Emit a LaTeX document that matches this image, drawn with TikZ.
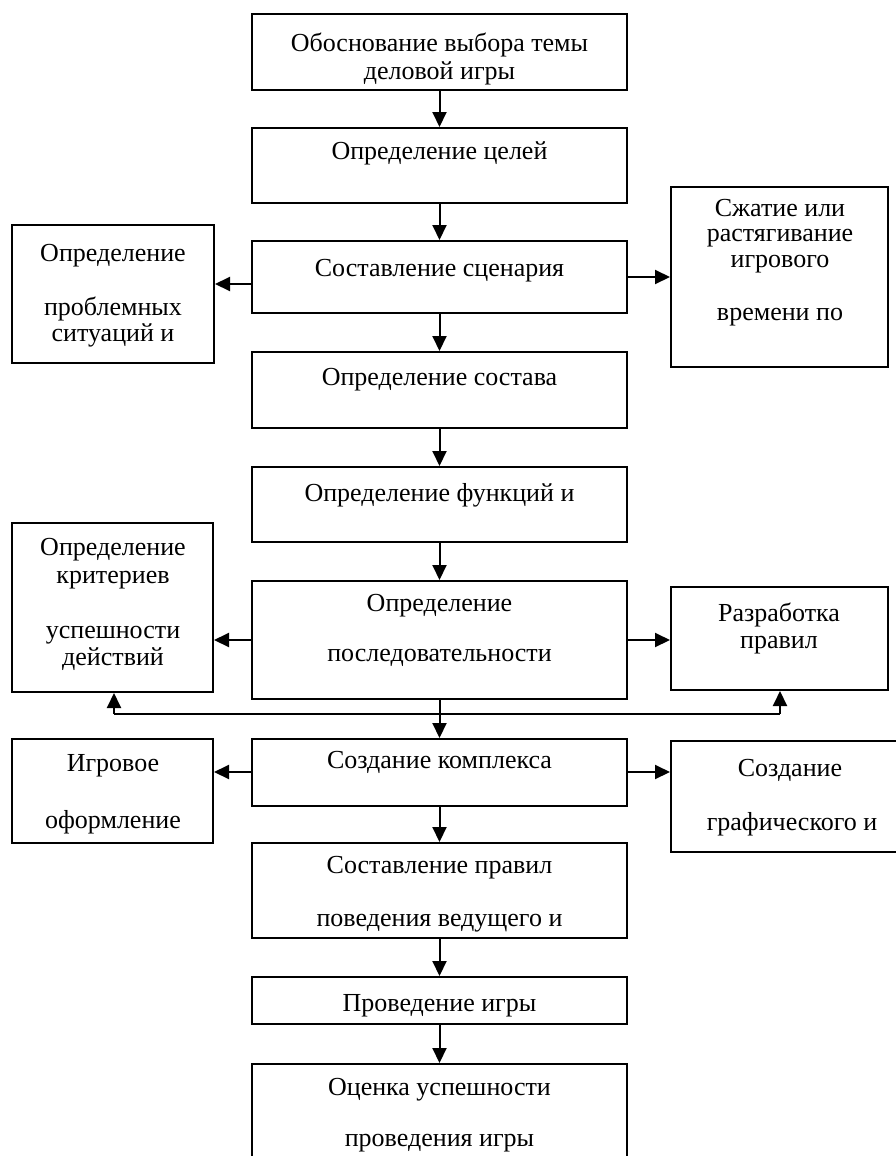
\documentclass[tikz,border=0pt]{standalone}
\usepackage{fontspec}
\setmainfont{Liberation Serif}
\usetikzlibrary{arrows.meta}
\newcommand\boxat[5]{\node[box, minimum width={(#4-#2)*1pt}, minimum height={(#5-#3)*1pt}] (#1) at ({(#2+#4)/2},{(#3+#5)/2}) {};}
\begin{document}
\begin{tikzpicture}[x=1pt,y=-1pt,
 box/.style={draw, line width=2pt, inner sep=0pt, fill=white},
 txt/.style={inner sep=0pt, anchor=base, font=\fontsize{26}{30}\selectfont},
 arr/.style={line width=2pt, -{Triangle[length=15pt,width=14pt]}},
 ln/.style={line width=2pt}]
\useasboundingbox (0,0) rectangle (896,1156);
\fill[white] (0,0) rectangle (896,1156);
% main column
\boxat{b1}{252}{14}{627}{90}
\boxat{b2}{252}{128}{627}{203}
\boxat{b3}{252}{241}{627}{313}
\boxat{b4}{252}{352}{627}{428}
\boxat{b5}{252}{467}{627}{542}
\boxat{b6}{252}{581}{627}{699}
\boxat{b7}{252}{739}{627}{806}
\boxat{b8}{252}{843}{627}{938}
\boxat{b9}{252}{977}{627}{1024}
\boxat{b10}{252}{1064}{627}{1175}
% side boxes
\boxat{A}{12}{225}{214}{363}
\boxat{B}{671}{187}{888}{367}
\boxat{C}{12}{523}{213}{692}
\boxat{D}{671}{587}{888}{690}
\boxat{F}{12}{739}{213}{843}
\boxat{E}{671}{741}{915}{852}
% texts
\node[txt] (t1a) at (439.5,52) {Обоснование выбора темы};
\node[txt] (t1b) at (439.5,80) {деловой игры};
\node[txt] (t2) at (439.5,159) {Определение целей};
\node[txt] (t3) at (439.5,276) {Составление сценария};
\node[txt] (t4) at (439.5,385) {Определение состава};
\node[txt] (t5) at (439.5,501) {Определение функций и};
\node[txt] (t6a) at (439.5,611) {Определение};
\node[txt] (t6b) at (439.5,661) {последовательности};
\node[txt] (t7) at (439.5,768) {Создание комплекса};
\node[txt] (t8a) at (439.5,873) {Составление правил};
\node[txt] (t8b) at (439.5,926) {поведения ведущего и};
\node[txt] (t9) at (439.5,1011) {Проведение игры};
\node[txt] (t10a) at (439.5,1095) {Оценка успешности};
\node[txt] (t10b) at (439.5,1146) {проведения игры};
\node[txt] (tAa) at (113,261) {Определение};
\node[txt] (tAb) at (113,315) {проблемных};
\node[txt] (tAc) at (113,341) {ситуаций и};
\node[txt] (tBa) at (780,216) {Сжатие или};
\node[txt] (tBb) at (780,241) {растягивание};
\node[txt] (tBc) at (780,267) {игрового};
\node[txt] (tBd) at (780,320) {времени по};
\node[txt] (tCa) at (113,555) {Определение};
\node[txt] (tCb) at (113,583) {критериев};
\node[txt] (tCc) at (113,638) {успешности};
\node[txt] (tCd) at (113,665) {действий};
\node[txt] (tDa) at (779,621) {Разработка};
\node[txt] (tDb) at (779,648) {правил};
\node[txt] (tFa) at (113,771) {Игровое};
\node[txt] (tFb) at (113,828) {оформление};
\node[txt] (tEa) at (790,776) {Создание};
\node[txt] (tEb) at (792,830) {графического и};
% helper levels
\coordinate (y284) at (0,284);
\coordinate (y277) at (0,277);
\coordinate (y640) at (0,640);
\coordinate (y772) at (0,772);
\coordinate (jl) at (114,714);
\coordinate (jr) at (780,714);
% vertical arrows
\draw[arr] (b1.south) -- (b2.north);
\draw[arr] (b2.south) -- (b3.north);
\draw[arr] (b3.south) -- (b4.north);
\draw[arr] (b4.south) -- (b5.north);
\draw[arr] (b5.south) -- (b6.north);
\draw[arr] (b6.south) -- (b7.north);
\draw[arr] (b7.south) -- (b8.north);
\draw[arr] (b8.south) -- (b9.north);
\draw[arr] (b9.south) -- (b10.north);
% side arrows
\draw[arr] (b3.west |- y284) -- (A.east |- y284);
\draw[arr] (b3.east |- y277) -- (B.west |- y277);
\draw[arr] (b6.west |- y640) -- (C.east |- y640);
\draw[arr] (b6.east |- y640) -- (D.west |- y640);
\draw[arr] (b7.west |- y772) -- (F.east |- y772);
\draw[arr] (b7.east |- y772) -- (E.west |- y772);
% junction line
\draw[ln] (jl) -- (jr);
\draw[arr] (jl) -- (jl |- C.south);
\draw[arr] (jr) -- (jr |- D.south);
\end{tikzpicture}
\end{document}
